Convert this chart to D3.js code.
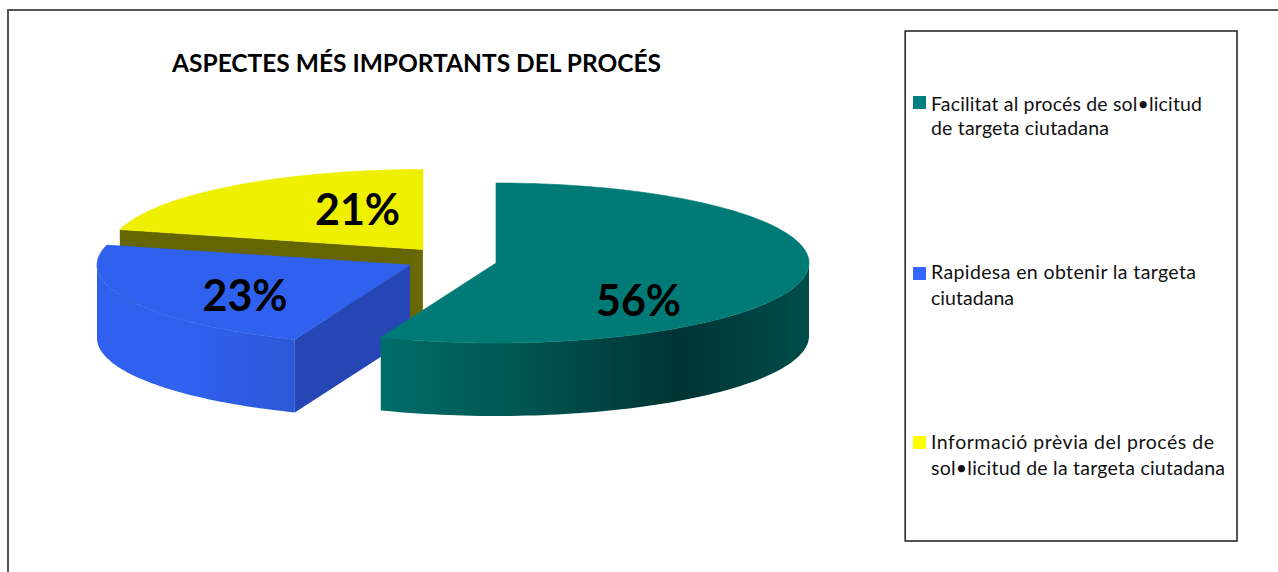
<!DOCTYPE html>
<html>
<head>
<meta charset="utf-8">
<script src="https://cdn.jsdelivr.net/npm/d3@7/dist/d3.min.js"></script>
<style>
html,body{margin:0;padding:0;background:#fff;}
svg{display:block;}
text{font-family:Lato,"Open Sans",sans-serif;}
</style>
</head>
<body>
<svg id="chart" width="1278" height="572"></svg>
<script>
const chartTitle = "ASPECTES MÉS IMPORTANTS DEL PROCÉS";
const categories = ["Facilitat", "Rapidesa", "Informació"];
const shares = [56, 23, 21];
const shareLabels = ["56%", "23%", "21%"];
const legendLines = [
  ["Facilitat al procés de sol•licitud", "de targeta ciutadana"],
  ["Rapidesa en obtenir la targeta", "ciutadana"],
  ["Informació prèvia del procés de", "sol•licitud de la targeta ciutadana"]
];
const topColours = ["#007a76", "#2f60ee", "#efef00"];
const swatchColours = ["#008080", "#3366ff", "#ffff00"];

// Layout of the tilted, exploded pie
const rx = 313, ry = 80, depth = 73;
const centres = [[496, 263], [410, 265], [423, 249.5]];
const labelAnchors = [[638.5, 316], [245, 311], [357.5, 225]];

// Layout of the legend: baselines and line widths per entry
const legendBaselines = [[110.5, 135], [279, 305], [449, 475]];
const legendWidths = [[271, 178], [265, 83], [283, 294]];
const swatchTops = [96, 267, 436];

const svg = d3.select("#chart");
const defs = svg.append("defs");

function wallGradient(id, x1, x2, stops) {
  const g = defs.append("linearGradient").attr("id", id)
    .attr("gradientUnits", "userSpaceOnUse")
    .attr("x1", x1).attr("x2", x2).attr("y1", 0).attr("y2", 0);
  stops.forEach(([o, c]) => g.append("stop").attr("offset", o).attr("stop-color", c));
}
wallGradient("wall0", 383, 808, [[0, "#006d69"], [0.35, "#005350"], [0.7, "#003333"], [1, "#004d4a"]]);
wallGradient("wall1", 96, 297, [[0, "#2f60ee"], [0.5, "#2f60ee"], [1, "#2b58d6"]]);
wallGradient("cut2", 119, 423, [[0, "#666600"], [0.955, "#666600"], [0.995, "#6b6a08"], [1, "#8a8433"]]);

// Angles come from d3.pie, clockwise from twelve o'clock
const arcs = d3.pie().sort(null).value(d => d)(shares);
const line = d3.line();

function ellipsePoints(c, a0, a1, dy = 0) {
  const n = Math.max(2, Math.ceil(Math.abs(a1 - a0) * 40));
  return d3.range(n + 1).map(i => {
    const a = a0 + (a1 - a0) * i / n;
    return [c[0] + rx * Math.sin(a), c[1] - ry * Math.cos(a) + dy];
  });
}
function topFace(c, a) {
  return line([c, ...ellipsePoints(c, a.startAngle, a.endAngle)]) + "Z";
}
// Curved outer wall: only the part of the rim that faces the viewer
function outerWall(c, a) {
  const lo = Math.max(a.startAngle, Math.PI / 2);
  const hi = Math.min(a.endAngle, 3 * Math.PI / 2);
  if (hi <= lo) return null;
  return line([...ellipsePoints(c, lo, hi), ...ellipsePoints(c, hi, lo, depth)]) + "Z";
}
function cutFace(c, angle) {
  const p = ellipsePoints(c, angle, angle)[0];
  return line([c, p, [p[0], p[1] + depth], [c[0], c[1] + depth]]) + "Z";
}

// Back slice first so the nearer ones overlap it
const order = [2, 1, 0];
const pie = svg.append("g");
order.forEach(i => {
  const a = arcs[i], c = centres[i], g = pie.append("g");
  if (i === 2) {
    g.append("path").attr("d", cutFace(c, a.startAngle)).attr("fill", "url(#cut2)");
  } else if (i === 1) {
    g.append("path").attr("d", outerWall(c, a)).attr("fill", "url(#wall1)");
    g.append("path").attr("d", cutFace(c, a.startAngle)).attr("fill", "#2546b4");
  } else {
    g.append("path").attr("d", outerWall(c, a)).attr("fill", "url(#wall0)");
  }
  // A hairline in the face colour closes the seam against the wall
  g.append("path").attr("d", topFace(c, a)).attr("fill", topColours[i])
    .attr("stroke", topColours[i]).attr("stroke-width", 0.6);
});

// Percentage labels
svg.append("g").selectAll("text").data(shareLabels).join("text")
  .attr("x", (d, i) => labelAnchors[i][0])
  .attr("y", (d, i) => labelAnchors[i][1])
  .attr("text-anchor", "middle")
  .attr("font-size", 43).attr("font-weight", 700).attr("fill", "#000")
  .text(d => d);

// Title
svg.append("text").attr("x", 172).attr("y", 72)
  .attr("font-size", 25).attr("font-weight", 700).attr("fill", "#000")
  .attr("textLength", 489).attr("lengthAdjust", "spacingAndGlyphs")
  .text(chartTitle);

// Outer frame: top and left edges only
svg.append("path").attr("d", "M8,572V10H1278").attr("fill", "none")
  .attr("stroke", "#555").attr("stroke-width", 2);

// Legend box
svg.append("rect").attr("x", 905.2).attr("y", 31).attr("width", 331.8).attr("height", 510)
  .attr("fill", "#fff").attr("stroke", "#2a2a2a").attr("stroke-width", 1.6);

const legend = svg.append("g").selectAll("g").data(categories).join("g");
legend.append("rect")
  .attr("x", 913).attr("y", (d, i) => swatchTops[i])
  .attr("width", 13).attr("height", 13)
  .attr("fill", (d, i) => swatchColours[i]);
[0, 1].forEach(row => {
  legend.append("text")
    .attr("x", 931).attr("y", (d, i) => legendBaselines[i][row])
    .attr("font-size", 19.5).attr("fill", "#111")
    .attr("textLength", (d, i) => legendWidths[i][row])
    .attr("lengthAdjust", "spacing")
    .text((d, i) => legendLines[i][row]);
});
</script>
</body>
</html>
